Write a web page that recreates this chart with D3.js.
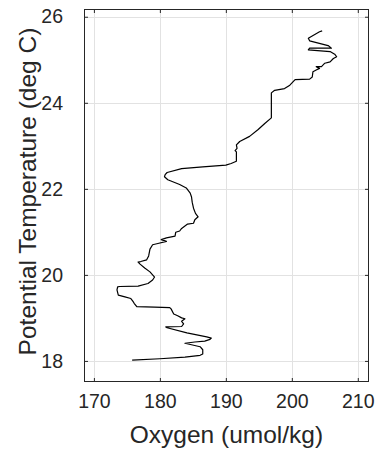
<!DOCTYPE html>
<html>
<head>
<meta charset="utf-8">
<script src="https://cdn.jsdelivr.net/npm/d3@7"></script>
<style>
  html, body { margin: 0; padding: 0; background: #fff; }
  svg { display: block; font-family: "Liberation Sans", Arial, Helvetica, sans-serif; }
</style>
</head>
<body>
<svg id="chart" width="383" height="459"></svg>
<script>
// Oxygen (umol/kg) along the profile, bottom (cold) to top (warm)
const oxygen = [
  175.8, 180.0, 183.8, 186.1, 186.5, 186.5, 186.1, 183.8, 185.3, 186.8,
  187.6, 187.8, 187.1, 184.1, 181.1, 180.9, 183.3, 183.6, 183.3, 183.8,
  183.3, 182.7, 182.1, 181.7, 181.5, 179.2, 176.5, 176.1, 175.9, 175.6,
  174.7, 173.7, 173.5, 173.6, 173.9, 176.7, 178.2, 178.9, 179.2, 178.5,
  177.7, 177.0, 176.7, 177.1, 178.0, 178.3, 178.5, 178.9, 179.7, 181.0,
  180.2, 181.0, 182.3, 182.4, 183.0, 183.3, 184.2, 185.1, 185.3, 185.8,
  185.4, 185.1, 184.9, 184.8, 184.6, 184.0, 183.0, 181.2, 180.7, 180.8,
  181.1, 183.3, 186.5, 190.0, 190.8, 191.6, 191.6, 191.4, 191.7, 191.6,
  192.1, 193.6, 194.9, 195.9, 196.9, 196.9, 196.9, 196.9, 197.4, 198.9,
  199.7, 200.5, 202.7, 203.1, 203.2, 203.7, 204.2, 203.7, 204.5, 205.0,
  205.8, 206.3, 206.8, 206.5, 205.8, 202.5, 202.7, 206.0, 205.5, 202.7,
  202.5, 204.2, 204.6
];
// Potential temperature (deg C) matching each oxygen value
const temperature = [
  18.02, 18.05, 18.09, 18.13, 18.16, 18.26, 18.33, 18.41, 18.44, 18.46,
  18.50, 18.53, 18.56, 18.65, 18.77, 18.79, 18.80, 18.86, 18.92, 18.98,
  19.00, 19.05, 19.09, 19.21, 19.24, 19.25, 19.26, 19.34, 19.39, 19.45,
  19.49, 19.53, 19.65, 19.72, 19.73, 19.74, 19.80, 19.88, 19.95, 20.07,
  20.16, 20.25, 20.30, 20.31, 20.35, 20.44, 20.60, 20.70, 20.73, 20.78,
  20.82, 20.86, 20.90, 20.99, 21.02, 21.08, 21.18, 21.20, 21.28, 21.35,
  21.43, 21.55, 21.69, 21.81, 21.90, 22.02, 22.10, 22.21, 22.28, 22.33,
  22.38, 22.47, 22.51, 22.55, 22.59, 22.64, 22.86, 22.89, 22.94, 23.02,
  23.10, 23.22, 23.38, 23.52, 23.65, 23.83, 24.06, 24.23, 24.29, 24.33,
  24.41, 24.54, 24.55, 24.60, 24.72, 24.76, 24.80, 24.84, 24.84, 24.92,
  24.95, 25.03, 25.07, 25.13, 25.19, 25.23, 25.27, 25.27, 25.33, 25.44,
  25.50, 25.65, 25.67
];
const xTicks = [170, 180, 190, 200, 210];
const yTicks = [18, 20, 22, 24, 26];
const xDomain = [168.5, 211.7];
const yDomain = [17.51, 26.18];
const xTitle = "Oxygen (umol/kg)";
const yTitle = "Potential Temperature (deg C)";

const svg = d3.select("#chart");
const L = 84, R = 369, T = 9, B = 382;

const x = d3.scaleLinear().domain(xDomain).range([L, R]);
const y = d3.scaleLinear().domain(yDomain).range([B, T]);

// grid
const grid = svg.append("g");
grid.selectAll("line.gx").data(xTicks).join("line")
  .attr("x1", d => Math.round(x(d)) + 0.5).attr("x2", d => Math.round(x(d)) + 0.5)
  .attr("y1", T).attr("y2", B)
  .attr("stroke", "#e2e2e2").attr("stroke-width", 1);
grid.selectAll("line.gy").data(yTicks).join("line")
  .attr("y1", d => Math.round(y(d)) + 0.5).attr("y2", d => Math.round(y(d)) + 0.5)
  .attr("x1", L).attr("x2", R)
  .attr("stroke", "#e2e2e2").attr("stroke-width", 1);

// data line
const line = d3.line().x(d => x(d[0])).y(d => y(d[1]));
svg.append("path")
  .datum(oxygen.map((o, i) => [o, temperature[i]]))
  .attr("d", line)
  .attr("fill", "none")
  .attr("stroke", "#000")
  .attr("stroke-width", 1.2)
  .attr("stroke-linejoin", "round");

// axes (ticks inside, box on)
const tickLen = 4;
const axB = svg.append("g").attr("transform", `translate(0,${B})`)
  .call(d3.axisBottom(x).tickValues(xTicks).tickSizeInner(-tickLen).tickSizeOuter(0).tickPadding(12));
const axT = svg.append("g").attr("transform", `translate(0,${T})`)
  .call(d3.axisTop(x).tickValues(xTicks).tickSizeInner(-tickLen).tickSizeOuter(0).tickFormat(""));
const axL = svg.append("g").attr("transform", `translate(${L},0)`)
  .call(d3.axisLeft(y).tickValues(yTicks).tickSizeInner(-tickLen).tickSizeOuter(0).tickPadding(21));
const axR = svg.append("g").attr("transform", `translate(${R},0)`)
  .call(d3.axisRight(y).tickValues(yTicks).tickSizeInner(-tickLen).tickSizeOuter(0).tickFormat(""));

[axB, axT, axL, axR].forEach(a => {
  a.select(".domain").remove();
  a.selectAll(".tick line").attr("stroke", "#262626");
  a.selectAll("text").attr("fill", "#262626")
    .style("font-family", '"Liberation Sans", Arial, sans-serif')
    .style("font-size", "19.5px");
});

// frame
svg.append("rect")
  .attr("x", L + 0.5).attr("y", T + 0.5)
  .attr("width", R - L - 1).attr("height", B - T - 1)
  .attr("fill", "none").attr("stroke", "#262626").attr("stroke-width", 1);

// titles
svg.append("text")
  .attr("x", (L + R) / 2).attr("y", 443)
  .attr("text-anchor", "middle")
  .attr("fill", "#262626")
  .style("font-size", "24.5px")
  .text(xTitle);
svg.append("text")
  .attr("transform", `translate(36,${(T + B) / 2 - 4}) rotate(-90)`)
  .attr("text-anchor", "middle")
  .attr("fill", "#262626")
  .style("font-size", "24.5px")
  .text(yTitle);
</script>
</body>
</html>
